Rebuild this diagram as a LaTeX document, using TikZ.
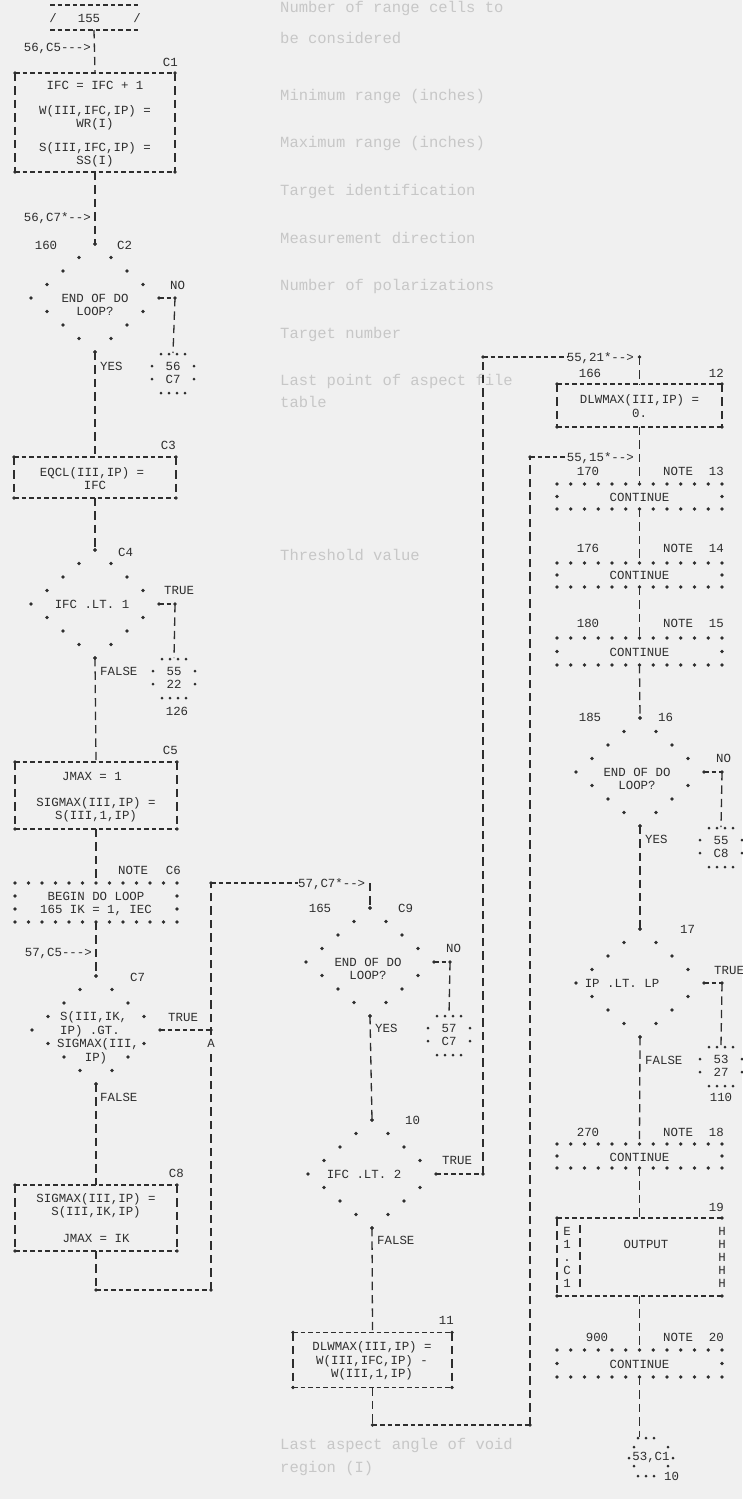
\documentclass[tikz,border=0pt]{standalone}
\usepackage{fontspec}
\setmonofont{Liberation Mono}
\newfontfamily\bgfont{Liberation Mono}
\usetikzlibrary{shapes.geometric,calc}
\colorlet{ink}{black!82}
\colorlet{paper}{white!94!black}
\colorlet{ghost}{black!22}
\tikzset{
  hl/.style={draw=ink, line width=1.4pt, dash pattern=on 4.6pt off 3pt},
  vl/.style={draw=ink, line width=1.3pt, dash pattern=on 8.4pt off 5pt},
  tx/.style={font=\ttfamily\fontsize{12.4}{13.4}\selectfont, text=ink, inner sep=0pt, text height=8.4pt, text depth=0pt},
  txl/.style={tx, anchor=west},
  txr/.style={tx, anchor=east},
  hid/.style={inner sep=0pt, outer sep=0pt, draw=none},
  dia/.style={hid, diamond, minimum width=128pt, minimum height=108pt},
  offc/.style={hid, minimum width=42pt, minimum height=40pt},
  bgt/.style={font=\bgfont\fontsize{15.5}{16}\selectfont, text=ghost, inner sep=0pt, anchor=west},
}
\newcommand\Dot[1]{\fill[ink] #1 circle (1.9pt);}
\newcommand\Pt[1]{\fill[ink] #1 circle (1.5pt);}
\newcommand\PBorder[1]{%
  \draw[hl] (#1.north west) -- (#1.north east);
  \draw[hl] (#1.south west) -- (#1.south east);
  \draw[vl] (#1.north west) -- (#1.south west);
  \draw[vl] (#1.north east) -- (#1.south east);
  \Dot{(#1.north west)}\Dot{(#1.north east)}\Dot{(#1.south west)}\Dot{(#1.south east)}}
\newcommand\DBorder[1]{%
  \foreach \i in {0,...,12}{%
    \fill[ink] ($(#1.north west)!\i/12!(#1.north east)$) circle (1.9pt);
    \fill[ink] ($(#1.south west)!\i/12!(#1.south east)$) circle (1.9pt);}}
\newcommand\DiaDots[1]{%
  \foreach \k in {-4,...,4}{%
    \pgfmathsetmacro\dx{16*(4-abs(\k))}%
    \pgfmathsetmacro\dy{13.5*\k}%
    \fill[ink] ([shift={(\dx,\dy)}]#1.center) circle (1.9pt);
    \fill[ink] ([shift={(-\dx,\dy)}]#1.center) circle (1.9pt);}}
\newcommand\OffDots[1]{%
  \foreach \u in {-12,-4,4,12}{\Pt{([shift={(\u,-19)}]#1.center)}\Pt{([shift={(\u,20)}]#1.center)}}%
  \foreach \v in {-7,6}{\Pt{([shift={(-21,\v)}]#1.center)}\Pt{([shift={(21,\v)}]#1.center)}}}
\begin{document}
\begin{tikzpicture}[x=1pt,y=-1pt]
\fill[paper] (0,0) rectangle (742,1499);
\useasboundingbox (0,0) rectangle (742,1499);

% ---- faint show-through text
\node[bgt] (bg1) at (280,8) {Number of range cells to};
\node[bgt] (bg2) at (280,38) {be considered};
\node[bgt] (bg3) at (280,96) {Minimum range (inches)};
\node[bgt] (bg4) at (280,143) {Maximum range (inches)};
\node[bgt] (bg5) at (280,191) {Target identification};
\node[bgt] (bg6) at (280,238) {Measurement direction};
\node[bgt] (bg7) at (280,286) {Number of polarizations};
\node[bgt] (bg8) at (280,334) {Target number};
\node[bgt] (bg9) at (280,381) {Last point of aspect file};
\node[bgt] (bg10) at (280,402) {table};
\node[bgt] (bg11) at (280,555) {Threshold value};
\node[bgt] (bg19) at (280,1445) {Last aspect angle of void};
\node[bgt] (bg20) at (280,1468) {region (I)};

% ================= LEFT COLUMN =================
\node[hid, minimum width=88pt, minimum height=25pt] (t155) at (94,17.5) {};
\draw[hl] (t155.north west) -- (t155.north east);
\draw[hl] (t155.south west) -- (t155.south east);
\node[tx] (t155a) at (53,18) {/};
\node[tx] (t155b) at (89,18) {155};
\node[tx] (t155c) at (137,18) {/};

\node[hid, minimum width=160pt, minimum height=99pt] (c1) at (95,122.5) {};
\PBorder{c1}
\node[txr] (c1l) at (178,62) {C1};
\node[tx] (c1a) at (95,85) {IFC = IFC + 1};
\node[tx] (c1b) at (95,110) {W(III,IFC,IP) =};
\node[tx] (c1c) at (95,123) {WR(I)};
\node[tx] (c1d) at (95,147) {S(III,IFC,IP) =};
\node[tx] (c1e) at (95,160) {SS(I)};
\draw[vl] (t155.south) -- (c1.north);
\node[txr] (e1) at (91,47) {56,C5--->};

\node[dia] (c2) at (95,298) {};
\DiaDots{c2}
\draw[vl] (c1.south) -- (c2.north);
\node[txr] (e2) at (91,217) {56,C7*-->};
\node[tx] (c2n) at (46,245) {160};
\node[txl] (c2l) at (117,245) {C2};
\node[tx] (c2a) at (95,298) {END OF DO};
\node[tx] (c2b) at (95,311) {LOOP?};
\node[txl] (c2no) at (170,285) {NO};
\coordinate (c2j) at (175,298);
\draw[hl] (c2.east) -- (c2j); \Dot{(c2j)}
\node[offc] (o1) at (173,373) {};
\OffDots{o1}
\node[tx] (o1a) at (173,366) {56};
\node[tx] (o1b) at (173,379) {C7};
\draw[vl] (c2j) -- (o1.north);
\node[txl] (c2y) at (100,366) {YES};

\node[hid, minimum width=162pt, minimum height=41pt] (c3) at (95,477.5) {};
\PBorder{c3}
\draw[vl] (c2.south) -- (c3.north);
\node[txr] (c3l) at (176,445) {C3};
\node[tx] (c3a) at (92,472) {EQCL(III,IP) =};
\node[tx] (c3b) at (95,485) {IFC};

\node[dia] (c4) at (95,604) {};
\DiaDots{c4}
\draw[vl] (c3.south) -- (c4.north);
\node[txl] (c4l) at (118,552) {C4};
\node[tx] (c4a) at (92,604) {IFC .LT. 1};
\node[txl] (c4t) at (164,590) {TRUE};
\coordinate (c4j) at (175,604);
\draw[hl] (c4.east) -- (c4j); \Dot{(c4j)}
\node[offc] (o2) at (174,678) {};
\OffDots{o2}
\node[tx] (o2a) at (174,671) {55};
\node[tx] (o2b) at (174,684) {22};
\node[tx] (o2c) at (177,711) {126};
\draw[vl] (c4j) -- (o2.north);
\node[txl] (c4f) at (100,671) {FALSE};

\node[hid, minimum width=162pt, minimum height=67pt] (c5) at (96,795.5) {};
\PBorder{c5}
\draw[vl] (c4.south) -- (c5.north);
\node[txr] (c5l) at (178,750) {C5};
\node[tx] (c5a) at (92,776) {JMAX = 1};
\node[tx] (c5b) at (96,802) {SIGMAX(III,IP) =};
\node[tx] (c5c) at (96,815) {S(III,1,IP)};

\node[hid, minimum width=162pt, minimum height=39pt] (c6) at (96,902.5) {};
\DBorder{c6}
\Dot{(15,896)}\Dot{(15,909)}\Dot{(177,896)}\Dot{(177,909)}
\draw[vl] (c5.south) -- (c6.north);
\node[txl] (c6n) at (118,870) {NOTE};
\node[txr] (c6l) at (181,870) {C6};
\node[tx] (c6a) at (96,896) {BEGIN DO LOOP};
\node[tx] (c6b) at (96,909) {165 IK = 1, IEC};

\node[dia] (c7) at (96,1030) {};
\DiaDots{c7}
\draw[vl] (c6.south) -- (c7.north);
\node[txr] (e3) at (92,952) {57,C5--->};
\node[txl] (c7l) at (130,977) {C7};
\node[txl] (c7a) at (60,1016.5) {S(III,IK,};
\node[txl] (c7b) at (60,1030) {IP) .GT.};
\node[tx] (c7c) at (98,1043.5) {SIGMAX(III,};
\node[tx] (c7d) at (96,1057) {IP)};
\node[txl] (c7t) at (168,1017) {TRUE};
\coordinate (c7j) at (211,1030);
\draw[hl] (c7.east) -- (c7j);
\node[txl] (c7f) at (100,1097) {FALSE};

\node[hid, minimum width=162pt, minimum height=66pt] (c8) at (96,1218) {};
\PBorder{c8}
\draw[vl] (c7.south) -- (c8.north);
\node[txr] (c8l) at (184,1173) {C8};
\node[tx] (c8a) at (96,1198) {SIGMAX(III,IP) =};
\node[tx] (c8b) at (96,1211) {S(III,IK,IP)};
\node[tx] (c8c) at (96,1238) {JMAX = IK};

\coordinate (lb0) at (96,1290);
\coordinate (lb) at (211,1290);
\coordinate (lt) at (211,883);
\draw[vl] (c8.south) -- (lb0);
\draw[hl] (lb0) -- (lb);
\draw[vl] (lb) -- (lt);
\Dot{(lb0)}\Dot{(lb)}\Dot{(lt)}\Dot{(c7j)}
\node[tx, fill=paper, inner sep=1.5pt] (arrA) at (211,1043) {A};
\node[txl] (e4) at (298,883) {57,C7*-->};
\draw[hl] (lt) -- (e4.west);
\coordinate (c9in) at (370,883);

% ================= MIDDLE COLUMN =================
\node[dia] (c9) at (370,962) {};
\DiaDots{c9}
\draw[vl] (c9in) -- (c9.north);
\node[tx] (c9n) at (320,908) {165};
\node[txl] (c9l) at (398,908) {C9};
\node[tx] (c9a) at (368,962) {END OF DO};
\node[tx] (c9b) at (368,975) {LOOP?};
\node[txl] (c9no) at (446,948) {NO};
\coordinate (c9j) at (450,962);
\draw[hl] (c9.east) -- (c9j); \Dot{(c9j)}
\node[offc] (o3) at (449,1035) {};
\OffDots{o3}
\node[tx] (o3a) at (449,1028) {57};
\node[tx] (o3b) at (449,1041) {C7};
\draw[vl] (c9j) -- (o3.north);
\node[txl] (c9y) at (375,1028) {YES};

\node[dia] (d10) at (372,1174) {};
\DiaDots{d10}
\draw[vl] (c9.south) -- (d10.north);
\node[txl] (d10l) at (405,1120) {10};
\node[tx] (d10a) at (364,1174) {IFC .LT. 2};
\node[txl] (d10t) at (442,1160) {TRUE};
\coordinate (d10j) at (483,1174);
\coordinate (m1) at (483,357);
\draw[hl] (d10.east) -- (d10j);
\draw[vl] (d10j) -- (m1);
\Dot{(d10j)}\Dot{(m1)}
\node[txr] (e5) at (634,357) {55,21*-->};
\draw[hl] (m1) -- (e5.west);
\coordinate (m2) at (639.5,357);
\Dot{(m2)}
\node[txl] (d10f) at (377,1240) {FALSE};

\node[hid, minimum width=159pt, minimum height=55pt] (b11) at (372.5,1360) {};
\PBorder{b11}
\draw[vl] (d10.south) -- (b11.north);
\node[txr] (b11l) at (454,1320) {11};
\node[tx] (b11a) at (372,1346) {DLWMAX(III,IP) =};
\node[tx] (b11b) at (372,1360) {W(III,IFC,IP) -};
\node[tx] (b11c) at (372,1373) {W(III,1,IP)};
\coordinate (k1) at (372.5,1425);
\coordinate (k2) at (530,1425);
\coordinate (k3) at (530,457);
\draw[vl] (b11.south) -- (k1);
\draw[hl] (k1) -- (k2);
\draw[vl] (k2) -- (k3);
\Dot{(k1)}\Dot{(k2)}\Dot{(k3)}
\node[txr] (e6) at (634,457) {55,15*-->};
\draw[hl] (k3) -- (e6.west);

% ================= RIGHT COLUMN =================
\node[hid, minimum width=165pt, minimum height=43pt] (b12) at (639.5,405.5) {};
\PBorder{b12}
\draw[vl] (m2) -- (b12.north);
\node[tx] (b12n) at (590,373) {166};
\node[txr] (b12l) at (724,373) {12};
\node[tx] (b12a) at (639.5,399) {DLWMAX(III,IP) =};
\node[tx] (b12b) at (639.5,413) {0.};

\node[hid, minimum width=165pt, minimum height=25pt] (b13) at (639.5,496.5) {};
\DBorder{b13}\Dot{(b13.west)}\Dot{(b13.east)}
\draw[vl] (b12.south) -- (b13.north);
\node[tx] (b13n) at (588,471) {170};
\node[txl] (b13t) at (663,471) {NOTE};
\node[txr] (b13l) at (724,471) {13};
\node[tx] (b13a) at (639.5,497) {CONTINUE};

\node[hid, minimum width=165pt, minimum height=24pt] (b14) at (639.5,575) {};
\DBorder{b14}\Dot{(b14.west)}\Dot{(b14.east)}
\draw[vl] (b13.south) -- (b14.north);
\node[tx] (b14n) at (588,548) {176};
\node[txl] (b14t) at (663,548) {NOTE};
\node[txr] (b14l) at (724,548) {14};
\node[tx] (b14a) at (639.5,575) {CONTINUE};

\node[hid, minimum width=165pt, minimum height=27pt] (b15) at (639.5,651.5) {};
\DBorder{b15}\Dot{(b15.west)}\Dot{(b15.east)}
\draw[vl] (b14.south) -- (b15.north);
\node[tx] (b15n) at (588,623) {180};
\node[txl] (b15t) at (663,623) {NOTE};
\node[txr] (b15l) at (724,623) {15};
\node[tx] (b15a) at (639.5,652) {CONTINUE};

\node[dia] (d16) at (640,772) {};
\DiaDots{d16}
\draw[vl] (b15.south) -- (d16.north);
\node[tx] (d16n) at (590,717) {185};
\node[txl] (d16l) at (658,717) {16};
\node[tx] (d16a) at (637,772) {END OF DO};
\node[tx] (d16b) at (637,785) {LOOP?};
\node[txl] (d16no) at (716,758) {NO};
\coordinate (d16j) at (722,772);
\draw[hl] (d16.east) -- (d16j); \Dot{(d16j)}
\node[offc] (o4) at (721,847) {};
\OffDots{o4}
\node[tx] (o4a) at (721,840) {55};
\node[tx] (o4b) at (721,853) {C8};
\draw[vl] (d16j) -- (o4.north);
\node[txl] (d16y) at (645,839) {YES};

\node[dia] (d17) at (640,983) {};
\DiaDots{d17}
\draw[vl] (d16.south) -- (d17.north);
\node[txl] (d17l) at (680,929) {17};
\node[tx] (d17a) at (622,983) {IP .LT. LP};
\node[txl] (d17t) at (714,970) {TRUE};
\coordinate (d17j) at (722,983);
\draw[hl] (d17.east) -- (d17j); \Dot{(d17j)}
\node[offc] (o5) at (721,1066) {};
\OffDots{o5}
\node[tx] (o5a) at (721,1059) {53};
\node[tx] (o5b) at (721,1072) {27};
\node[tx] (o5c) at (721,1097) {110};
\draw[vl] (d17j) -- (o5.north);
\node[txl] (d17f) at (645,1060) {FALSE};

\node[hid, minimum width=165pt, minimum height=24pt] (b18) at (639.5,1156) {};
\DBorder{b18}\Dot{(b18.west)}\Dot{(b18.east)}
\draw[vl] (d17.south) -- (b18.north);
\node[tx] (b18n) at (588,1132) {270};
\node[txl] (b18t) at (663,1132) {NOTE};
\node[txr] (b18l) at (724,1132) {18};
\node[tx] (b18a) at (639.5,1157) {CONTINUE};

\node[hid, minimum width=165pt, minimum height=78pt] (b19) at (639.5,1257) {};
\draw[vl] (b18.south) -- (b19.north);
\draw[hl] (b19.north west) -- (b19.north east);
\draw[hl] (b19.south west) -- (b19.south east);
\draw[vl] (b19.north west) -- (b19.south west);
\Dot{(b19.north west)}\Dot{(b19.north east)}\Dot{(b19.south west)}\Dot{(b19.south east)}
\coordinate (b19i1) at (580,1225);
\coordinate (b19i2) at (580,1290);
\draw[vl] (b19i1) -- (b19i2);
\node[txr] (b19l) at (724,1207) {19};
\node[tx] (b19a) at (646,1244) {OUTPUT};
\node[tx] (b19e1) at (567,1231) {E};
\node[tx] (b19e2) at (567,1244) {1};
\node[tx] (b19e3) at (567,1257) {.};
\node[tx] (b19e4) at (567,1270) {C};
\node[tx] (b19e5) at (567,1283) {1};
\node[tx] (b19h1) at (722,1231) {H};
\node[tx] (b19h2) at (722,1244) {H};
\node[tx] (b19h3) at (722,1257) {H};
\node[tx] (b19h4) at (722,1270) {H};
\node[tx] (b19h5) at (722,1283) {H};

\node[hid, minimum width=165pt, minimum height=27pt] (b20) at (639.5,1363.5) {};
\DBorder{b20}\Dot{(b20.west)}\Dot{(b20.east)}
\draw[vl] (b19.south) -- (b20.north);
\node[tx] (b20n) at (597,1337) {900};
\node[txl] (b20t) at (663,1337) {NOTE};
\node[txr] (b20l) at (724,1337) {20};
\node[tx] (b20a) at (639.5,1364) {CONTINUE};

\node[hid, minimum width=40pt, minimum height=38pt] (oc) at (650,1456) {};
\draw[vl] (b20.south) -- (b20.south |- oc.north);
\foreach \u in {-8,0,8}{\Pt{([shift={(\u-4,-18)}]oc.center)}\Pt{([shift={(\u-4,20)}]oc.center)}}
\Pt{([shift={(-16,-9)}]oc.center)}\Pt{([shift={(18,-9)}]oc.center)}
\Pt{([shift={(-16,10)}]oc.center)}\Pt{([shift={(18,10)}]oc.center)}
\Pt{([shift={(-21,2)}]oc.center)}\Pt{([shift={(23,2)}]oc.center)}
\node[tx] (oca) at (651,1456) {53,C1};
\node[txl] (ocb) at (664,1476) {10};
\end{tikzpicture}
\end{document}
